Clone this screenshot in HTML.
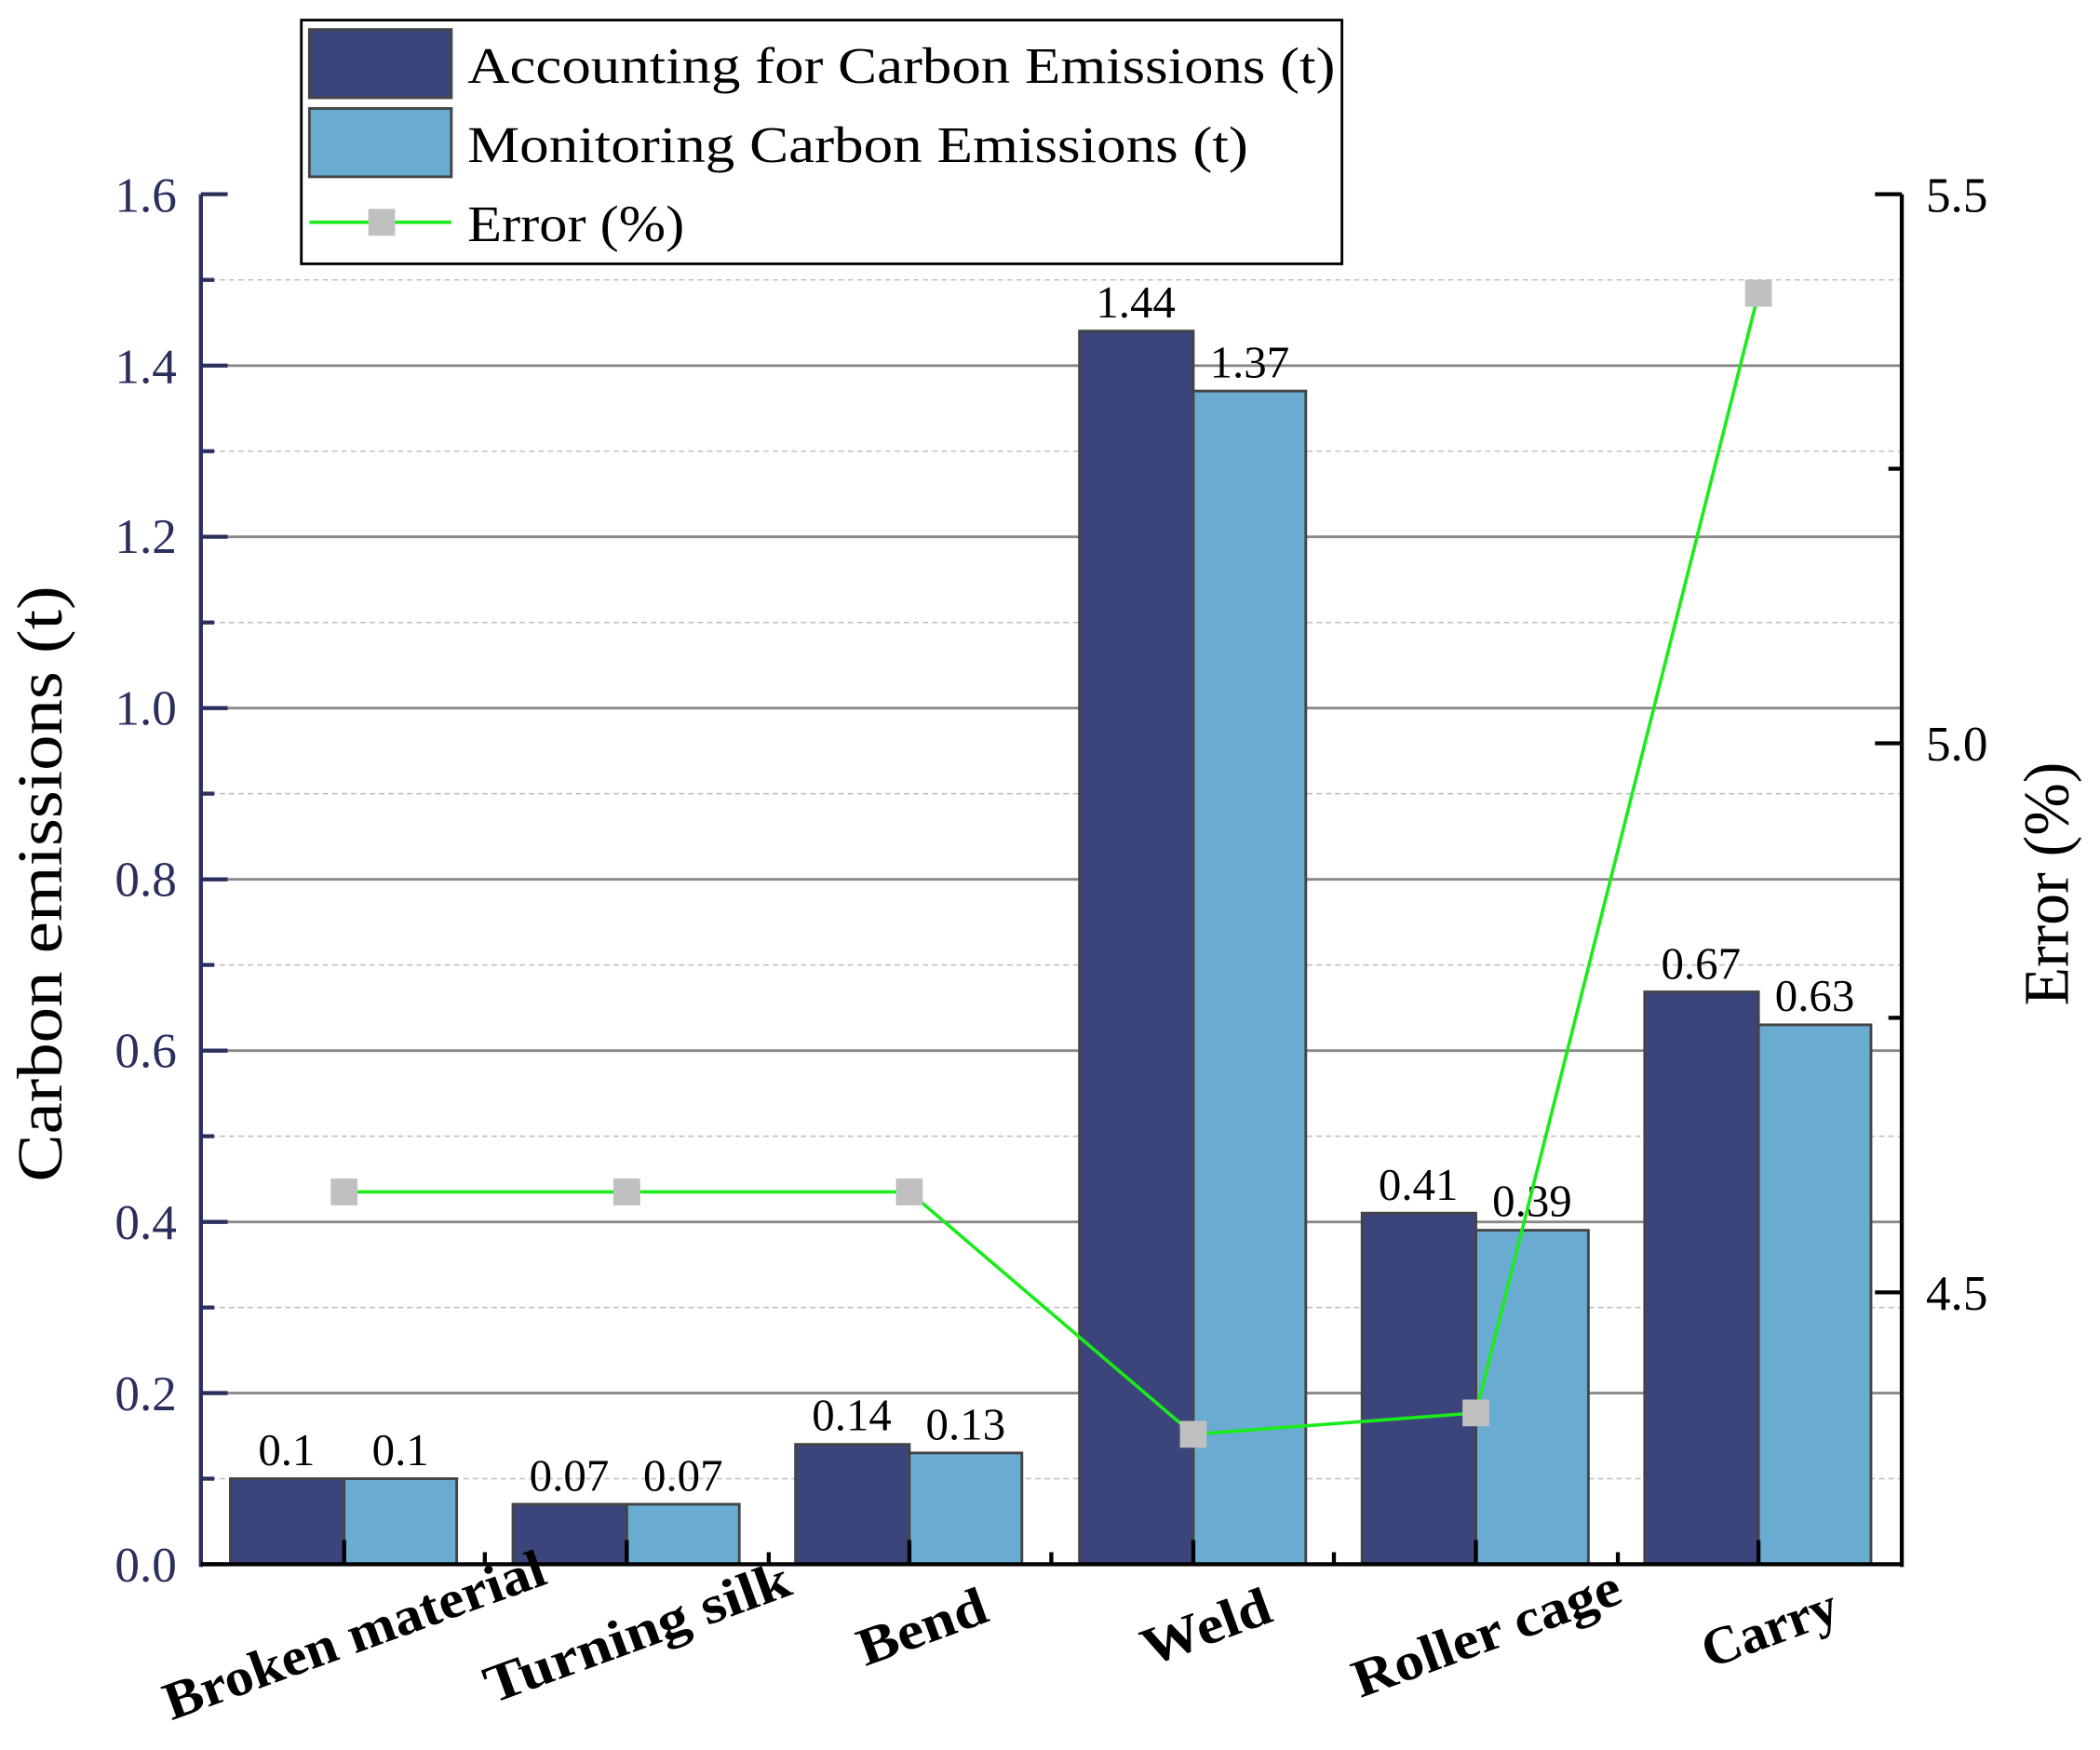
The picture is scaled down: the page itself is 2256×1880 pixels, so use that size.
<!DOCTYPE html>
<html><head><meta charset="utf-8"><style>html,body{margin:0;padding:0;background:#fff}svg{display:block}</style></head>
<body>
<svg width="2256" height="1880" viewBox="0 0 1568 1306.7" preserveAspectRatio="none" xmlns="http://www.w3.org/2000/svg" font-family="Liberation Serif, serif">
<g stroke="#bbb" stroke-width="1" stroke-dasharray="4,3">
<line x1="150" x2="1420" y1="1104.1" y2="1104.1"/><line x1="150" x2="1420" y1="976.3" y2="976.3"/><line x1="150" x2="1420" y1="848.4" y2="848.4"/><line x1="150" x2="1420" y1="720.5" y2="720.5"/><line x1="150" x2="1420" y1="592.6" y2="592.6"/><line x1="150" x2="1420" y1="464.8" y2="464.8"/><line x1="150" x2="1420" y1="336.9" y2="336.9"/><line x1="150" x2="1420" y1="209" y2="209"/>
</g>
<g stroke="#888" stroke-width="2">
<line x1="150" x2="1420" y1="1040.2" y2="1040.2"/><line x1="150" x2="1420" y1="912.4" y2="912.4"/><line x1="150" x2="1420" y1="784.5" y2="784.5"/><line x1="150" x2="1420" y1="656.6" y2="656.6"/><line x1="150" x2="1420" y1="528.7" y2="528.7"/><line x1="150" x2="1420" y1="400.8" y2="400.8"/><line x1="150" x2="1420" y1="273" y2="273"/>
</g>
<g stroke="#444" stroke-width="2">
<rect x="172" y="1104.1" width="85" height="63.9" fill="#3c447c"/><rect x="257" y="1104.1" width="84" height="63.9" fill="#6aabd2"/>
<rect x="383" y="1123.2" width="85" height="44.8" fill="#3c447c"/><rect x="468" y="1123.2" width="84" height="44.8" fill="#6aabd2"/>
<rect x="594" y="1078.5" width="85" height="89.5" fill="#3c447c"/><rect x="679" y="1084.9" width="84" height="83.1" fill="#6aabd2"/>
<rect x="806" y="247.2" width="85" height="920.8" fill="#3c447c"/><rect x="891" y="292" width="84" height="876" fill="#6aabd2"/>
<rect x="1017" y="905.8" width="85" height="262.2" fill="#3c447c"/><rect x="1102" y="918.6" width="84" height="249.4" fill="#6aabd2"/>
<rect x="1228" y="740.6" width="85" height="427.4" fill="#3c447c"/><rect x="1313" y="765.2" width="84" height="402.8" fill="#6aabd2"/>
</g>
<g font-size="34" text-anchor="middle" fill="#000">
<text x="214" y="1094">0.1</text><text x="299" y="1094">0.1</text>
<text x="425" y="1113">0.07</text><text x="510" y="1113">0.07</text>
<text x="636" y="1068">0.14</text><text x="721" y="1075">0.13</text>
<text x="848" y="237">1.44</text><text x="933" y="282">1.37</text>
<text x="1059" y="896">0.41</text><text x="1144" y="908">0.39</text>
<text x="1270" y="731">0.67</text><text x="1355" y="755">0.63</text>
</g>
<polyline points="257,890 468,890 679,890 891,1071 1102,1055 1313,219" fill="none" stroke="#1aeb1a" stroke-width="2.5"/>
<g fill="#c0c0c0"><rect x="247" y="880" width="20" height="20"/><rect x="458" y="880" width="20" height="20"/><rect x="669" y="880" width="20" height="20"/><rect x="881" y="1061" width="20" height="20"/><rect x="1092" y="1045" width="20" height="20"/><rect x="1303" y="209" width="20" height="20"/></g>
<g stroke="#2b2f5e" stroke-width="3"><line x1="150" y1="145" x2="150" y2="1170"/>
<line x1="150" x2="170" y1="1168" y2="1168"/><line x1="150" x2="170" y1="1040.2" y2="1040.2"/><line x1="150" x2="170" y1="912.4" y2="912.4"/><line x1="150" x2="170" y1="784.5" y2="784.5"/><line x1="150" x2="170" y1="656.6" y2="656.6"/><line x1="150" x2="170" y1="528.7" y2="528.7"/><line x1="150" x2="170" y1="400.8" y2="400.8"/><line x1="150" x2="170" y1="273" y2="273"/><line x1="150" x2="170" y1="145" y2="145"/>
<line x1="150" x2="160" y1="1104.1" y2="1104.1"/><line x1="150" x2="160" y1="976.3" y2="976.3"/><line x1="150" x2="160" y1="848.4" y2="848.4"/><line x1="150" x2="160" y1="720.5" y2="720.5"/><line x1="150" x2="160" y1="592.6" y2="592.6"/><line x1="150" x2="160" y1="464.8" y2="464.8"/><line x1="150" x2="160" y1="336.9" y2="336.9"/><line x1="150" x2="160" y1="209" y2="209"/>
</g>
<g stroke="#000" stroke-width="3"><line x1="150" y1="1168" x2="1420" y2="1168"/><line x1="1420" y1="145" x2="1420" y2="1170"/>
<line x1="1400" x2="1420" y1="145" y2="145"/><line x1="1400" x2="1420" y1="555" y2="555"/><line x1="1400" x2="1420" y1="965" y2="965"/><line x1="1410" x2="1420" y1="350" y2="350"/><line x1="1410" x2="1420" y1="760" y2="760"/>
<line x1="257" x2="257" y1="1150" y2="1168"/><line x1="468" x2="468" y1="1150" y2="1168"/><line x1="679" x2="679" y1="1150" y2="1168"/><line x1="891" x2="891" y1="1150" y2="1168"/><line x1="1102" x2="1102" y1="1150" y2="1168"/><line x1="1313" x2="1313" y1="1150" y2="1168"/>
<line x1="362" x2="362" y1="1159" y2="1168"/><line x1="574" x2="574" y1="1159" y2="1168"/><line x1="785" x2="785" y1="1159" y2="1168"/><line x1="996" x2="996" y1="1159" y2="1168"/><line x1="1208" x2="1208" y1="1159" y2="1168"/>
</g>
<g font-size="37" fill="#2b2f5e" text-anchor="end">
<text x="132" y="1181">0.0</text><text x="132" y="1053">0.2</text><text x="132" y="925">0.4</text><text x="132" y="797">0.6</text><text x="132" y="669">0.8</text><text x="132" y="541">1.0</text><text x="132" y="413">1.2</text><text x="132" y="286">1.4</text><text x="132" y="158">1.6</text>
</g>
<g font-size="37" fill="#000"><text x="1438" y="158">5.5</text><text x="1438" y="568">5.0</text><text x="1438" y="978">4.5</text></g>
<text transform="translate(46,660) rotate(-90)" font-size="48" text-anchor="middle" textLength="445" lengthAdjust="spacingAndGlyphs">Carbon emissions (t)</text>
<text transform="translate(1544,660) rotate(-90)" font-size="48" text-anchor="middle" textLength="182" lengthAdjust="spacingAndGlyphs">Error (%)</text>
<g font-size="40" font-weight="bold" text-anchor="end">
<text transform="translate(410,1182) rotate(-20)" textLength="300" lengthAdjust="spacingAndGlyphs">Broken material</text>
<text transform="translate(593,1190) rotate(-20)" textLength="240" lengthAdjust="spacingAndGlyphs">Turning silk</text>
<text transform="translate(740,1210) rotate(-20)" textLength="100" lengthAdjust="spacingAndGlyphs">Bend</text>
<text transform="translate(952,1210) rotate(-20)" textLength="100" lengthAdjust="spacingAndGlyphs">Weld</text>
<text transform="translate(1213,1196) rotate(-20)" textLength="210" lengthAdjust="spacingAndGlyphs">Roller cage</text>
<text transform="translate(1375,1210) rotate(-20)" textLength="105" lengthAdjust="spacingAndGlyphs">Carry</text>
</g>
<rect x="225" y="15" width="777" height="182" fill="#fff" stroke="#000" stroke-width="2"/>
<rect x="231" y="22" width="106" height="51" fill="#3c447c" stroke="#444" stroke-width="2"/>
<rect x="231" y="81" width="106" height="51" fill="#6aabd2" stroke="#444" stroke-width="2"/>
<line x1="231" x2="337" y1="166" y2="166" stroke="#1aeb1a" stroke-width="2.5"/><rect x="275" y="156" width="20" height="20" fill="#c0c0c0"/>
<g font-size="38"><text x="349" y="62" textLength="648" lengthAdjust="spacingAndGlyphs">Accounting for Carbon Emissions (t)</text><text x="349" y="121" textLength="583" lengthAdjust="spacingAndGlyphs">Monitoring Carbon Emissions (t)</text><text x="349" y="180" textLength="162" lengthAdjust="spacingAndGlyphs">Error (%)</text></g>
</svg>
</body></html>
